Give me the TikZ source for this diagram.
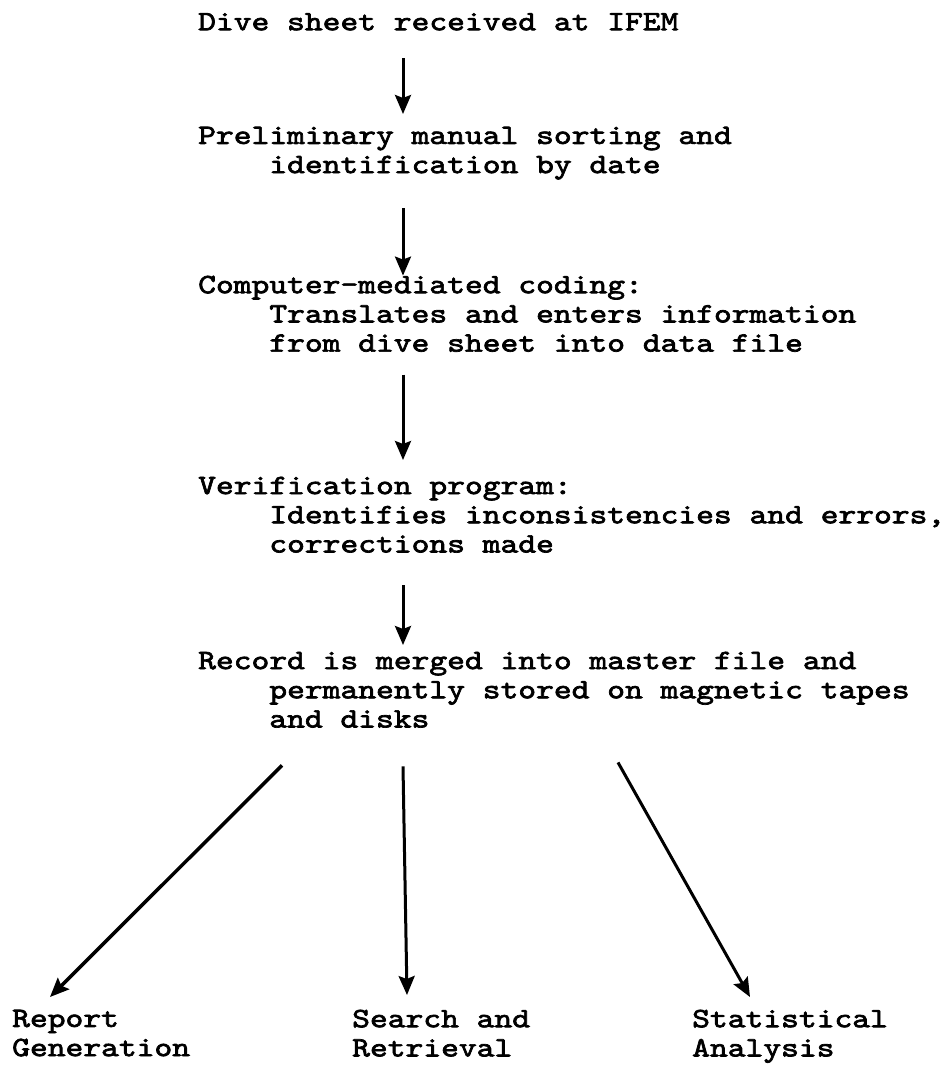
\documentclass[tikz,border=0pt]{standalone}
\usepackage{fontspec}
\newfontfamily\sheetfont{lmmono10-regular.otf}[FakeStretch=1.21,FakeBold=2.5]
\usetikzlibrary{positioning, arrows.meta}
\tikzset{
    entry/.style={inner sep=0pt, anchor=north west, align=left,
      font=\sheetfont\fontsize{28}{29.2}\selectfont,
      execute at begin node=\strut, execute at end node=\strut},
    flow/.style={->, line width=3pt},
  }

\begin{document}
\begin{tikzpicture}[x=1pt,y=-1pt,>={Stealth[length=19pt,width=16pt,inset=3pt]},every node/.style={entry}]
    \useasboundingbox (0,0) rectangle (952,1066);
    % the processing chain
    \node (dive) at (198,9.6) {Dive sheet received at IFEM};
    \node (sort) at (198,126.6) {Preliminary manual sorting and\\\hspace*{4\fontcharwd\font`M}identification by date};
    \node (code) at (198,275.6) {Computer-mediated coding:\\\hspace*{4\fontcharwd\font`M}Translates and enters information\\\hspace*{4\fontcharwd\font`M}from dive sheet into data file};
    \node (verify) at (198,476.6) {Verification program:\\\hspace*{4\fontcharwd\font`M}Identifies inconsistencies and errors,\\\hspace*{4\fontcharwd\font`M}corrections made};
    \node (record) at (198,651.6) {Record is merged into master file and\\\hspace*{4\fontcharwd\font`M}permanently stored on magnetic tapes\\\hspace*{4\fontcharwd\font`M}and disks};
    % the three uses
    \node (report) at (12,1009.6) {Report\\Generation};
    \node (search) at (352,1009.6) {Search and\\Retrieval};
    \node (stats) at (692,1009.6) {Statistical\\Analysis};
    % arrows
    \coordinate (spine) at (403,0);
    \draw[flow,shorten <=19pt,shorten >=12.6pt] (dive.south -| spine) -- (sort.north -| spine);
    \draw[flow,shorten <=26pt,shorten >=0pt] (sort.south -| spine) -- (code.north -| spine);
    \draw[flow,shorten <=14pt,shorten >=16.6pt] (code.south -| spine) -- (verify.north -| spine);
    \draw[flow,shorten <=24pt,shorten >=6.6pt] (verify.south -| spine) -- (record.north -| spine);
    \draw[flow,line width=3.5pt] ([xshift=84pt,yshift=-29pt]record.south west) -- ([xshift=38pt,yshift=12.6pt]report.north west);
    \draw[flow] ([xshift=205pt,yshift=-30pt]record.south west) -- ([xshift=55pt,yshift=14.6pt]search.north west);
    \draw[flow] ([xshift=420pt,yshift=-26pt]record.south west) -- ([xshift=58pt,yshift=12.6pt]stats.north west);
\end{tikzpicture}
\end{document}
